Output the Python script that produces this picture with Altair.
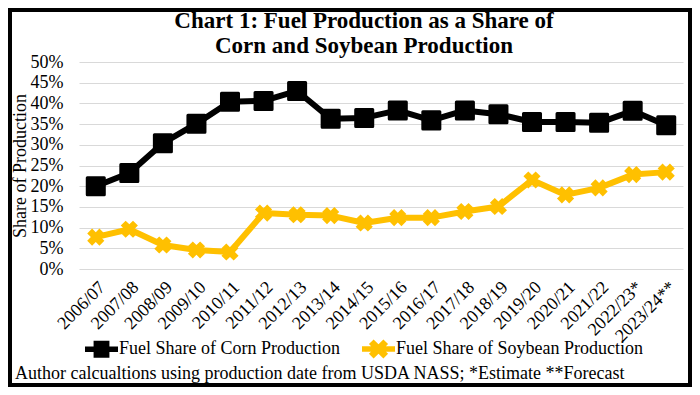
import math
import altair as alt
import pandas as pd

years = ["2006/07", "2007/08", "2008/09", "2009/10", "2010/11", "2011/12", "2012/13",
         "2013/14", "2014/15", "2015/16", "2016/17", "2017/18", "2018/19", "2019/20",
         "2020/21", "2021/22", "2022/23*", "2023/24**"]
corn = [20.0, 23.2, 30.4, 35.1, 40.4, 40.6, 43.0, 36.3, 36.5, 38.3, 35.9, 38.3, 37.4,
        35.5, 35.5, 35.3, 38.2, 34.7]
soy = [7.7, 9.6, 5.8, 4.6, 4.1, 13.5, 13.1, 12.9, 11.1, 12.4, 12.4, 13.9, 15.1,
       21.5, 17.9, 19.6, 22.8, 23.4]
series = ["Fuel Share of Corn Production", "Fuel Share of Soybean Production"]
colors = ["#000000", "#FFC000"]
title_lines = ["Chart 1: Fuel Production as a Share of", "Corn and Soybean Production"]
footer = "Author calcualtions using production date from USDA NASS; *Estimate **Forecast"
y_ticks = [i * 0.05 for i in range(11)]

rows = []
for i, yr in enumerate(years):
    rows.append({"year": yr, "series": series[0], "value": corn[i] / 100})
    rows.append({"year": yr, "series": series[1], "value": soy[i] / 100})
df = pd.DataFrame(rows)

FONT = "Liberation Serif"


def signed_area(pts):
    return sum(pts[i][0] * pts[(i + 1) % len(pts)][1] - pts[(i + 1) % len(pts)][0] * pts[i][1]
               for i in range(len(pts)))


def poly_path(pts):
    return "M" + " L".join(f"{x:.3f},{y:.3f}" for x, y in pts) + " Z"


bar = [(-1, -0.17), (1, -0.17), (1, 0.17), (-1, 0.17)]
ref_sign = signed_area(bar) > 0
sq = [(-0.48, -0.52), (0.48, -0.52), (0.48, 0.52), (-0.48, 0.52)]
a, t = 0.62, 0.2
plus = [(t, a), (t, t), (a, t), (a, -t), (t, -t), (t, -a), (-t, -a), (-t, -t),
        (-a, -t), (-a, t), (-t, t), (-t, a)]
xshape = [((x - y) / math.sqrt(2), (x + y) / math.sqrt(2)) for x, y in plus]
if (signed_area(xshape) > 0) != ref_sign:
    xshape = xshape[::-1]
if (signed_area(sq) > 0) != ref_sign:
    sq = sq[::-1]
corn_sym = poly_path(bar) + " " + poly_path(sq)
soy_sym = poly_path(bar) + " " + poly_path(xshape)

x_enc = alt.X("year:N", sort=years, scale=alt.Scale(type="point", padding=0.5),
              axis=alt.Axis(title=None, labelAngle=-45, labelFont=FONT, labelFontSize=18,
                            labelColor="black", domain=False, ticks=False, labelPadding=9,
                            grid=False, labelLimit=0))
y_enc = alt.Y("value:Q", scale=alt.Scale(domain=[0, 0.5], nice=False),
              axis=alt.Axis(title="Share of Production", values=y_ticks, format=".0%",
                            labelFont=FONT, labelFontSize=18, labelColor="black",
                            titleFont=FONT, titleFontSize=18, titleFontWeight="normal",
                            titleColor="black", titleX=-50, titleY=103.5,
                            domain=False, ticks=False,
                            labelPadding=16, gridColor="#d9d9d9", gridWidth=1))

base = alt.Chart(df)
corn_base = base.transform_filter(alt.datum.series == series[0])
soy_base = base.transform_filter(alt.datum.series == series[1])

corn_line = corn_base.mark_line(color=colors[0], strokeWidth=6, strokeJoin="round").encode(x=x_enc, y=y_enc)
soy_line = soy_base.mark_line(color=colors[1], strokeWidth=6, strokeJoin="round").encode(x=x_enc, y=y_enc)
corn_pts = corn_base.mark_point(shape="square", filled=True, size=290, color=colors[0],
                                stroke=colors[0], strokeWidth=3, strokeJoin="round",
                                opacity=1).encode(x=x_enc, y=y_enc)
soy_pts = soy_base.mark_point(shape="cross", angle=45, filled=True, size=300, color=colors[1],
                              opacity=1).encode(x=x_enc, y=y_enc)

leg = alt.Legend(title=None, orient="none", direction="horizontal", legendX=6, legendY=270,
                 labelFont=FONT, labelFontSize=18, labelColor="black", symbolSize=1089,
                 symbolOpacity=1, symbolStrokeWidth=0, labelOffset=1, columnPadding=22,
                 padding=0, labelLimit=0)
legend_layer = base.mark_point(filled=True, opacity=0).encode(
    x=x_enc, y=y_enc,
    color=alt.Color("series:N", scale=alt.Scale(domain=series, range=colors), legend=leg),
    shape=alt.Shape("series:N", scale=alt.Scale(domain=series, range=[corn_sym, soy_sym]),
                    legend=leg),
)

title_layers = []
for line, ypos in zip(title_lines, [-41, -16]):
    title_layers.append(
        alt.Chart(pd.DataFrame({"t": [line]})).mark_text(
            align="center", baseline="middle", font=FONT, fontSize=23, fontWeight="bold",
            color="black"
        ).encode(x=alt.value(285), y=alt.value(ypos), text="t:N")
    )

foot = alt.Chart(pd.DataFrame({"t": [footer]})).mark_text(
    align="left", baseline="middle", font=FONT, fontSize=18, color="black"
).encode(x=alt.value(-64), y=alt.value(312), text="t:N")

border = alt.Chart(pd.DataFrame({"k": [0]})).mark_rect(
    fillOpacity=0, stroke="black", strokeWidth=4
).encode(x=alt.value(-69), x2=alt.value(611), y=alt.value(-52), y2=alt.value(323))

chart = alt.layer(soy_line, soy_pts, corn_line, corn_pts, legend_layer, *title_layers, foot,
                  border).properties(
    width=604, height=207,
    padding={"left": 71, "top": 54, "right": 9, "bottom": 118},
    autosize=alt.AutoSizeParams(type="none"),
    background="white",
).configure_view(stroke=None)

chart.save("out.html", embed_options={"renderer": "svg", "actions": False})
